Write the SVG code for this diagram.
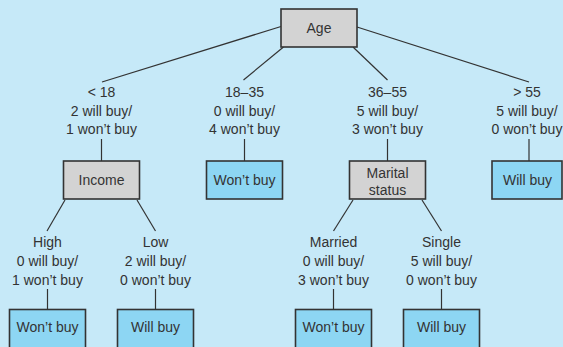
<svg xmlns="http://www.w3.org/2000/svg" width="563" height="347" viewBox="0 0 563 347">
  <style>
    .bg { fill: #c6e9f8; }
    .box { stroke: #333333; stroke-width: 1.6; }
    .split { fill: #d3d3d3; }
    .leaf { fill: #8dd6f3; }
    .edge { stroke: #333333; stroke-width: 1.2; fill: none; }
    text { font-family: "Liberation Sans", Arial, sans-serif; font-size: 14px; fill: #333333; text-anchor: middle; }
  </style>
  <rect class="bg" x="0" y="0" width="563" height="347"/>

  <!-- connectors -->
  <g id="connectors">
    <line class="edge" x1="281" y1="26.5" x2="102" y2="82"/>
    <line class="edge" x1="283.5" y1="47" x2="243.5" y2="80"/>
    <line class="edge" x1="353" y1="47" x2="387.5" y2="80"/>
    <line class="edge" x1="357" y1="27" x2="529" y2="82"/>
    <line class="edge" x1="101.5" y1="139" x2="101.5" y2="161"/>
    <line class="edge" x1="244.5" y1="139" x2="244.5" y2="161"/>
    <line class="edge" x1="387.5" y1="139" x2="387.5" y2="161"/>
    <line class="edge" x1="529" y1="139" x2="529" y2="161"/>
    <line class="edge" x1="65" y1="200" x2="47" y2="231"/>
    <line class="edge" x1="137" y1="200" x2="155.5" y2="231"/>
    <line class="edge" x1="353" y1="200" x2="333.5" y2="231"/>
    <line class="edge" x1="422" y1="200" x2="441.5" y2="231"/>
    <line class="edge" x1="47.5" y1="289" x2="47.5" y2="309.5"/>
    <line class="edge" x1="155.5" y1="289" x2="155.5" y2="309.5"/>
    <line class="edge" x1="333.5" y1="289" x2="333.5" y2="309.5"/>
    <line class="edge" x1="441.5" y1="289" x2="441.5" y2="309.5"/>
  </g>

  <!-- branch labels -->
  <g id="labels">
    <text x="101.5" y="97">&lt; 18</text>
    <text x="101.5" y="115.5">2 will buy/</text>
    <text x="101.5" y="134">1 won’t buy</text>
    <text x="244.5" y="97">18–35</text>
    <text x="244.5" y="115.5">0 will buy/</text>
    <text x="244.5" y="134">4 won’t buy</text>
    <text x="387.5" y="97">36–55</text>
    <text x="387.5" y="115.5">5 will buy/</text>
    <text x="387.5" y="134">3 won’t buy</text>
    <text x="527" y="97">&gt; 55</text>
    <text x="527" y="115.5">5 will buy/</text>
    <text x="527" y="134">0 won’t buy</text>
    <text x="47.5" y="247">High</text>
    <text x="47.5" y="266">0 will buy/</text>
    <text x="47.5" y="285">1 won’t buy</text>
    <text x="155.5" y="247">Low</text>
    <text x="155.5" y="266">2 will buy/</text>
    <text x="155.5" y="285">0 won’t buy</text>
    <text x="333.5" y="247">Married</text>
    <text x="333.5" y="266">0 will buy/</text>
    <text x="333.5" y="285">3 won’t buy</text>
    <text x="441.5" y="247">Single</text>
    <text x="441.5" y="266">5 will buy/</text>
    <text x="441.5" y="285">0 won’t buy</text>
  </g>

  <!-- nodes -->
  <g id="age">
    <rect class="box split" x="281" y="9" width="76" height="38"/>
    <text x="319" y="33">Age</text>
  </g>
  <g id="income">
    <rect class="box split" x="63.5" y="161" width="76" height="38"/>
    <text x="101.5" y="184.5">Income</text>
  </g>
  <g id="age-18-35">
    <rect class="box leaf" x="206.5" y="161" width="76" height="38"/>
    <text x="244.5" y="184.5">Won’t buy</text>
  </g>
  <g id="marital">
    <rect class="box split" x="349.5" y="161" width="76" height="38"/>
    <text x="387.5" y="177.5">Marital</text>
    <text x="387.5" y="195">status</text>
  </g>
  <g id="age-over-55">
    <rect class="box leaf" x="492" y="161" width="70" height="38"/>
    <text x="527.5" y="184.5">Will buy</text>
  </g>
  <g id="income-high">
    <rect class="box leaf" x="9.5" y="309.5" width="76" height="40"/>
    <text x="47.5" y="332">Won’t buy</text>
  </g>
  <g id="income-low">
    <rect class="box leaf" x="117.5" y="309.5" width="76" height="40"/>
    <text x="155.5" y="332">Will buy</text>
  </g>
  <g id="married">
    <rect class="box leaf" x="295.5" y="309.5" width="76" height="40"/>
    <text x="333.5" y="332">Won’t buy</text>
  </g>
  <g id="single">
    <rect class="box leaf" x="403.5" y="309.5" width="76" height="40"/>
    <text x="441.5" y="332">Will buy</text>
  </g>
</svg>
